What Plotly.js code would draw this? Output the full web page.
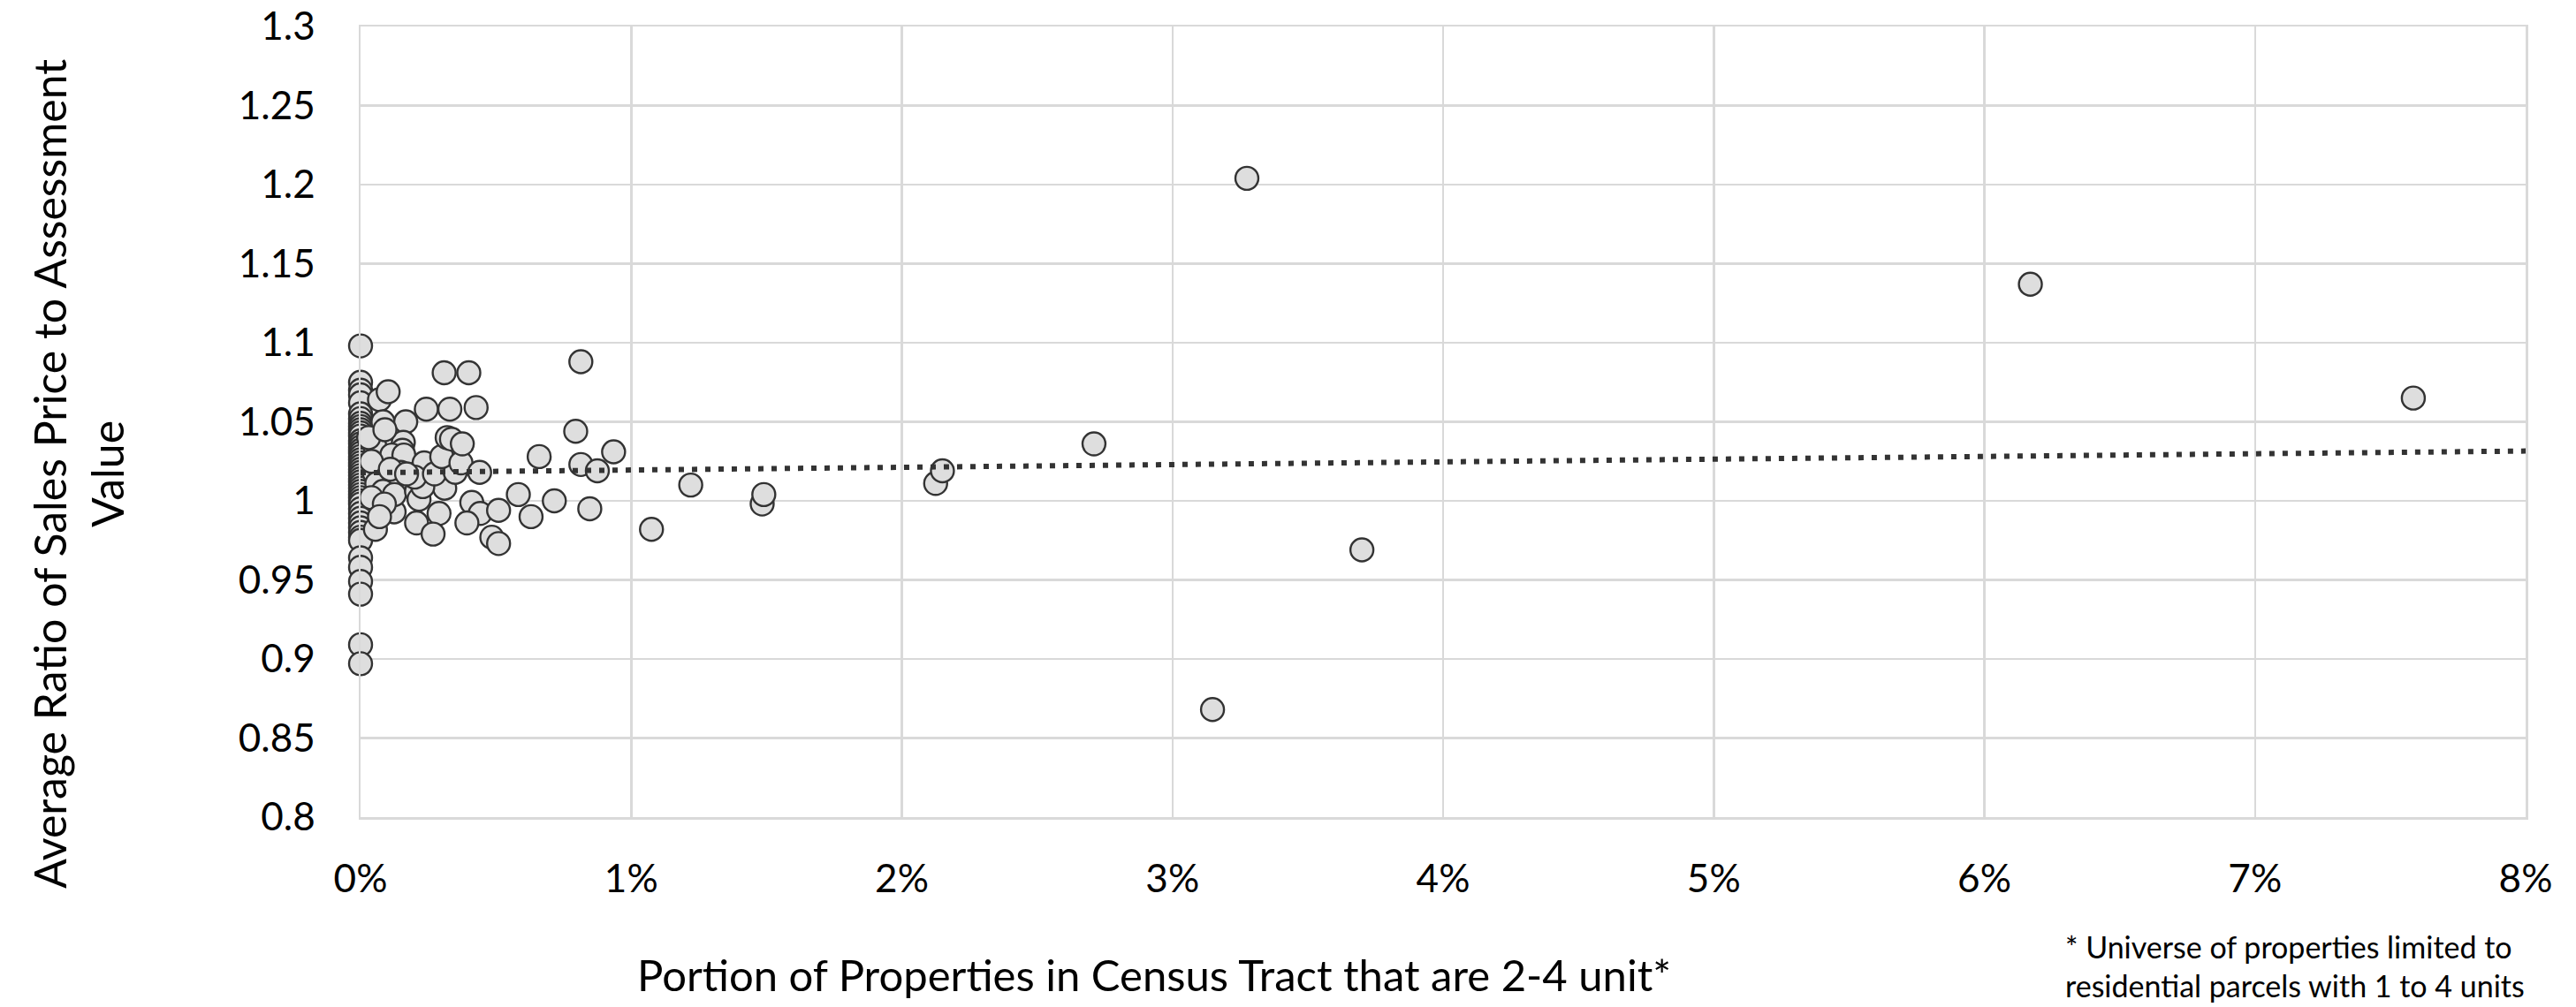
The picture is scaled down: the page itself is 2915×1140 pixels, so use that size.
<!DOCTYPE html>
<html>
<head>
<meta charset="utf-8">
<script src="https://cdn.plot.ly/plotly-3.0.1.min.js"></script>
<style>html,body{margin:0;padding:0;background:#fff;}#chart{width:2915px;height:1140px;}</style>
</head>
<body>
<div id="chart"></div>
<script>
// Portion of properties in tract that are 2-4 unit (percent)
const tractShare = [
  0,0,0,0,0,0,0,0,0,0,
  0,0,0,0,0,0,0,0,0,0,
  0,0,0,0,0,0,0,0,0,0,
  0,0,0,0,0,0,0,0,0,0,
  0,0,0,0,0,0,0,
  0.05,0.052,0.055,0.07,0.083,0.102,0.124,0.167,0.158,0.155,
  0.115,0.16,0.148,0.06,0.137,0.083,0.04,0.125,0.088,0.03,
  0.04,0.09,0.11,0.07,0.235,0.207,0.216,0.207,0.29,0.268,
  0.311,0.23,0.20,0.273,0.35,0.30,0.371,0.32,0.336,0.376,
  0.44,0.411,0.442,0.393,0.485,0.51,0.51,0.583,0.63,0.716,
  0.66,0.795,0.814,0.814,0.875,0.847,0.935,1.075,0.309,0.40,
  0.243,0.33,0.427,0.17,
  1.22,1.484,1.49,2.125,2.15,2.71,3.148,3.275,3.70,6.17,7.585
];
// Average ratio of sales price to assessment value
const avgRatio = [
  1.098,1.075,1.070,1.067,1.062,1.055,1.052,1.049,1.047,1.045,
  1.043,1.041,1.038,1.036,1.034,1.032,1.030,1.028,1.026,1.024,
  1.022,1.020,1.018,1.016,1.014,1.012,1.010,1.008,1.006,1.004,
  1.002,1.000,0.998,0.995,0.992,0.989,0.986,0.983,0.980,0.977,
  0.975,0.964,0.958,0.949,0.941,0.909,0.897,
  1.018,1.035,0.982,1.064,1.050,1.069,0.993,1.050,1.037,1.032,
  1.029,1.029,1.018,1.011,1.011,1.006,1.002,1.004,0.998,1.040,
  1.025,1.045,1.020,0.990,1.024,1.006,1.001,0.986,0.992,0.979,
  1.008,1.009,1.015,1.017,1.018,1.028,1.024,1.040,1.039,1.036,
  1.018,0.999,0.992,0.986,0.977,0.973,0.994,1.004,0.990,1.000,
  1.028,1.044,1.088,1.023,1.019,0.995,1.031,0.982,1.081,1.081,
  1.058,1.058,1.059,1.017,
  1.010,0.998,1.004,1.011,1.019,1.036,0.868,1.204,0.969,1.137,1.065
];
// Linear trendline end points
const trendShare = [0, 8];
const trendRatio = [1.0178, 1.0315];

const xTickVals = [0,1,2,3,4,5,6,7,8];
const xTickText = ['0%','1%','2%','3%','4%','5%','6%','7%','8%'];
const yTickVals = [0.8,0.85,0.9,0.95,1,1.05,1.1,1.15,1.2,1.25,1.3];
const yTickText = ['0.8','0.85','0.9','0.95','1','1.05','1.1','1.15','1.2','1.25','1.3'];

const FONT = 'Lato, "Open Sans", sans-serif';

const data = [
  {
    type: 'scatter', mode: 'markers',
    x: tractShare, y: avgRatio, cliponaxis: false,
    marker: {size: 26, color: '#dedede', line: {color: '#333333', width: 2.4}},
    hoverinfo: 'skip', showlegend: false
  },
  {
    type: 'scatter', mode: 'lines',
    x: trendShare, y: trendRatio, cliponaxis: false,
    line: {color: '#333333', width: 6, dash: '6px,9px'},
    hoverinfo: 'skip', showlegend: false
  }
];

const layout = {
  width: 2915, height: 1140,
  margin: {l: 408, r: 57, t: 30, b: 215},
  paper_bgcolor: '#ffffff', plot_bgcolor: '#ffffff',
  font: {family: FONT, color: '#000000'},
  showlegend: false,
  xaxis: {
    range: [0, 8], tickvals: xTickVals, ticktext: xTickText,
    showgrid: true, gridcolor: '#d9d9d9', gridwidth: 2.5,
    zeroline: false, showline: true, linecolor: '#d9d9d9', linewidth: 2.5, mirror: true,
    ticks: 'outside', ticklen: 30, tickcolor: 'rgba(0,0,0,0)',
    tickfont: {family: FONT, size: 44, color: '#000'},
    fixedrange: true
  },
  yaxis: {
    range: [0.8, 1.3], tickvals: yTickVals, ticktext: yTickText,
    showgrid: true, gridcolor: '#d9d9d9', gridwidth: 2.5,
    zeroline: false, showline: true, linecolor: '#d9d9d9', linewidth: 2.5, mirror: true,
    ticks: 'outside', ticklen: 40, tickcolor: 'rgba(0,0,0,0)',
    tickfont: {family: FONT, size: 44, color: '#000'},
    fixedrange: true
  },
  annotations: [
    {
      xref: 'paper', yref: 'paper', x: 0.3665, y: -0.199,
      xanchor: 'center', yanchor: 'middle', showarrow: false,
      text: 'Portion of Properties in Census Tract that are 2-4 unit*',
      font: {family: FONT, size: 49, color: '#000'}
    },
    {
      xref: 'paper', yref: 'paper', x: -0.1306, y: 0.4335,
      xanchor: 'center', yanchor: 'middle', showarrow: false, textangle: -90,
      text: 'Average Ratio of Sales Price to Assessment<br>Value',
      font: {family: FONT, size: 50, color: '#000'}
    },
    {
      xref: 'paper', yref: 'paper', x: 0.7865, y: -0.138,
      xanchor: 'left', yanchor: 'top', showarrow: false, align: 'left',
      text: '* Universe of properties limited to<br>residential parcels with 1 to 4 units',
      font: {family: FONT, size: 34, color: '#000'}
    }
  ]
};

Plotly.newPlot('chart', data, layout, {displayModeBar: false, staticPlot: true});
</script>
</body>
</html>
